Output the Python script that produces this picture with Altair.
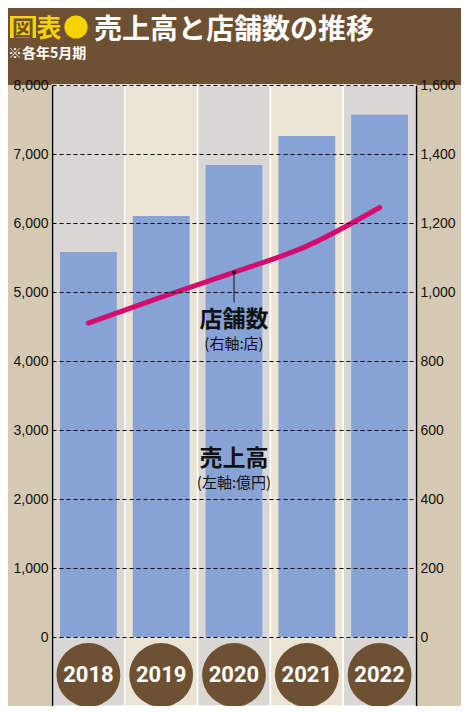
import altair as alt
import pandas as pd

years = ["2018", "2019", "2020", "2021", "2022"]
sales = [5580, 6100, 6840, 7260, 7570]          # 売上高 (億円, left axis)
stores = [910, 985, 1057, 1133, 1245]           # 店舗数 (店, right axis)
left_ticks = [0, 1000, 2000, 3000, 4000, 5000, 6000, 7000, 8000]
right_ticks = [0, 200, 400, 600, 800, 1000, 1200, 1400, 1600]

title_main = "売上高と店舗数の推移"
title_sub = "※各年5月期"

BROWN = "#6e5033"
TAN = "#d4c9b2"
GRAY = "#d9d6d3"
CREAM = "#eae4d4"
BAR = "#87a2d4"
MAGENTA = "#d60b6f"
YELLOW = "#f6d300"
JP = "Noto Sans CJK JP"

df = pd.DataFrame({"year": years, "sales": sales, "stores": stores})
df["shade"] = ["a" if i % 2 == 0 else "b" for i in range(len(df))]

W, H = 364, 621
LEFT_DOMAIN = [-1000, 8000]
RIGHT_DOMAIN = [-200, 1600]

xenc = alt.X("year:N", scale=alt.Scale(paddingInner=0, paddingOuter=0), axis=None)
yscale = alt.Scale(domain=LEFT_DOMAIN, nice=False, zero=False)
left_axis = alt.Axis(
    values=left_ticks, format=",.0f", title=None, grid=True, gridColor="black",
    gridDash=[4, 3], gridWidth=1, domainColor="black", domainWidth=1.5,
    ticks=False, labelFontSize=14, labelColor="#111", labelPadding=4,
    labelFont="Liberation Sans", zindex=2)

def one(text):
    return alt.Chart(pd.DataFrame({"t": [text]}))

# ---- header decorations (pixel positions relative to the plot origin) ----
header_bg = one("").mark_rect(color=BROWN).encode(
    x=alt.value(-44), x2=alt.value(W + 45), y=alt.value(-77), y2=alt.value(0))
zu_box = one("").mark_rect(color=YELLOW).encode(
    x=alt.value(-42), x2=alt.value(-16), y=alt.value(-69), y2=alt.value(-47))
zu = one("図").mark_text(font=JP, fontWeight="bold", fontSize=22, color=BROWN,
                         baseline="middle", align="center").encode(
    x=alt.value(-29), y=alt.value(-56), text="t:N")
hyo = one("表").mark_text(font=JP, fontWeight="bold", fontSize=25, color=YELLOW,
                          baseline="middle", align="center").encode(
    x=alt.value(-3), y=alt.value(-56), text="t:N")
dot_hdr = one("").mark_circle(color=YELLOW, opacity=1, size=540).encode(
    x=alt.value(24), y=alt.value(-58))
t_main = one(title_main).mark_text(font=JP, fontWeight="bold", fontSize=28, color="white",
                                   baseline="middle", align="left").encode(
    x=alt.value(42), y=alt.value(-54), text="t:N")
t_sub = one(title_sub).mark_text(font=JP, fontWeight="bold", fontSize=14, color="white",
                                 baseline="middle", align="left").encode(
    x=alt.value(-44), y=alt.value(-31), text="t:N")

# ---- chart body on the left scale ----
base = alt.Chart(df)

bg = base.mark_bar(width=alt.RelativeBandSize(1), stroke="white", strokeWidth=1.5).encode(
    x=xenc,
    y=alt.YDatum(8000, scale=yscale, axis=left_axis),
    y2=alt.datum(LEFT_DOMAIN[0]),
    color=alt.Color("shade:N", scale=alt.Scale(domain=["a", "b"], range=[GRAY, CREAM]), legend=None),
)

bars = base.mark_bar(width=alt.RelativeBandSize(0.78), color=BAR).encode(
    x=xenc,
    y=alt.Y("sales:Q", scale=yscale, axis=left_axis),
    y2=alt.datum(0),
)

circles = base.mark_circle(color=BROWN, opacity=1, size=4070).encode(
    x=xenc, y=alt.YDatum(-550, scale=yscale, axis=left_axis))
year_txt = base.mark_text(color="white", fontSize=22, fontWeight="bold", font="Roboto",
                          baseline="middle").encode(
    x=xenc, y=alt.YDatum(-550, scale=yscale, axis=left_axis), text="year:N")

ann = alt.Chart(pd.DataFrame({"year": ["2020"]}))
ann1 = ann.mark_text(font=JP, fontWeight="bold", fontSize=23, color="#111", baseline="middle").encode(
    x=xenc, y=alt.YDatum(4590, scale=yscale, axis=left_axis), text=alt.value("店舗数"))
ann2 = ann.mark_text(font=JP, fontSize=15, color="#111", baseline="middle").encode(
    x=xenc, y=alt.YDatum(4240, scale=yscale, axis=left_axis), text=alt.value("(右軸:店)"))
ann3 = ann.mark_text(font=JP, fontWeight="bold", fontSize=23, color="#111", baseline="middle").encode(
    x=xenc, y=alt.YDatum(2580, scale=yscale, axis=left_axis), text=alt.value("売上高"))
ann4 = ann.mark_text(font=JP, fontSize=15, color="#111", baseline="middle").encode(
    x=xenc, y=alt.YDatum(2230, scale=yscale, axis=left_axis), text=alt.value("(左軸:億円)"))

left_group = alt.layer(header_bg, zu_box, zu, hyo, dot_hdr, t_main, t_sub,
                       bg, bars, circles, year_txt, ann1, ann2, ann3, ann4)

# ---- right scale: store count line ----
rscale = alt.Scale(domain=RIGHT_DOMAIN, nice=False, zero=False)
right_axis = alt.Axis(
    orient="right", values=right_ticks, format=",.0f", title=None, grid=False,
    domainColor="black", domainWidth=1.5, ticks=False, labelFontSize=14,
    labelColor="#111", labelPadding=4, labelFont="Liberation Sans", zindex=2)
line = base.mark_line(color=MAGENTA, strokeWidth=5, interpolate="monotone", strokeCap="round").encode(
    x=xenc,
    y=alt.Y("stores:Q", scale=rscale, axis=right_axis),
)
conn = base.transform_filter(alt.datum.year == "2020")
rule = conn.mark_rule(color="#111", strokeWidth=1).encode(
    x=xenc, y=alt.Y("stores:Q", scale=rscale, axis=right_axis), y2=alt.datum(970))
pt = conn.mark_circle(color="#111", opacity=1, size=14).encode(
    x=xenc, y=alt.Y("stores:Q", scale=rscale, axis=right_axis))

right_group = alt.layer(line, rule, pt)

chart = alt.layer(left_group, right_group).resolve_scale(y="independent").properties(
    width=W, height=H,
    autosize=alt.AutoSizeParams(type="none"),
    padding={"left": 44, "top": 77, "right": 45, "bottom": 0},
    background=TAN,
).configure_view(stroke=None)

chart.save("out.html", embed_options={"renderer": "svg", "actions": False})
